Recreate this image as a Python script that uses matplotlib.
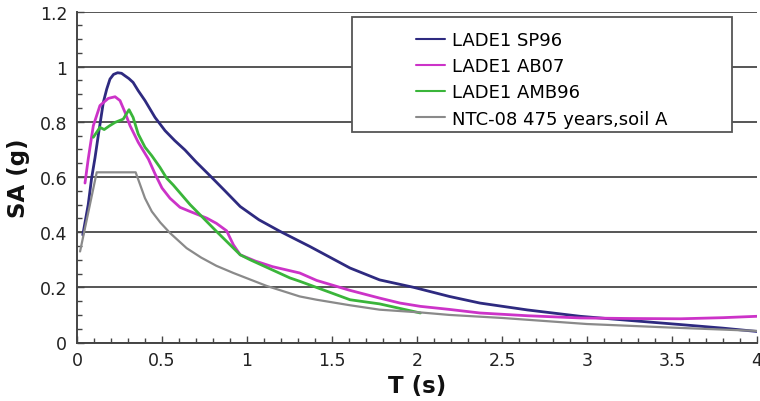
import matplotlib
matplotlib.use("Agg")
import matplotlib.pyplot as plt
from matplotlib.patches import Rectangle
from matplotlib.ticker import MultipleLocator

# Response spectra: period T (s) vs spectral acceleration SA (g)
t_sp96 = [0.034, 0.066, 0.086, 0.106, 0.125, 0.155, 0.175, 0.194, 0.215, 0.239,
          0.262, 0.282, 0.305, 0.33, 0.36, 0.40, 0.459, 0.518, 0.575, 0.635, 0.70,
          0.79, 0.87, 0.96, 1.07, 1.194, 1.37, 1.606, 1.78, 1.98, 2.19, 2.37,
          2.65, 2.96, 3.25, 3.55, 3.8, 4.0]
sa_sp96 = [0.39, 0.50, 0.596, 0.67, 0.75, 0.871, 0.919, 0.955, 0.972, 0.978,
           0.976, 0.967, 0.957, 0.943, 0.913, 0.877, 0.816, 0.768, 0.732, 0.698, 0.655,
           0.60, 0.55, 0.493, 0.445, 0.403, 0.348, 0.27, 0.227, 0.20, 0.167, 0.143,
           0.118, 0.095, 0.080, 0.065, 0.052, 0.04]

t_ab07 = [0.047, 0.066, 0.096, 0.135, 0.184, 0.224, 0.253, 0.282, 0.312, 0.36,
          0.42, 0.46, 0.50, 0.547, 0.606, 0.665, 0.763, 0.82, 0.88, 0.92,
          0.96, 1.05, 1.15, 1.31, 1.41, 1.6, 1.78, 1.9, 2.02, 2.19, 2.37,
          2.65, 2.96, 3.25, 3.55, 3.8, 4.0]
sa_ab07 = [0.578, 0.665, 0.786, 0.859, 0.885, 0.891, 0.877, 0.835, 0.786, 0.726,
           0.665, 0.61, 0.56, 0.523, 0.49, 0.475, 0.451, 0.432, 0.405, 0.354,
           0.318, 0.295, 0.275, 0.252, 0.225, 0.19, 0.161, 0.143, 0.131, 0.12, 0.107,
           0.097, 0.089, 0.087, 0.086, 0.09, 0.095]

t_amb96 = [0.096, 0.135, 0.16, 0.19, 0.224, 0.272, 0.306, 0.33, 0.36, 0.40,
           0.44, 0.488, 0.527, 0.566, 0.665, 0.82, 0.96, 1.018, 1.253, 1.31,
           1.606, 1.78, 2.02]
sa_amb96 = [0.744, 0.78, 0.772, 0.785, 0.798, 0.81, 0.844, 0.816, 0.756, 0.708,
            0.677, 0.635, 0.596, 0.571, 0.50, 0.403, 0.318, 0.30, 0.234, 0.222,
            0.155, 0.14, 0.107]

t_ntc = [0.018, 0.116, 0.345, 0.40, 0.44, 0.49, 0.547, 0.645, 0.73, 0.82, 0.92,
         1.02, 1.116, 1.31, 1.41, 1.606, 1.78, 2.02, 2.19, 2.5, 3.0, 3.5, 4.0]
sa_ntc = [0.33, 0.617, 0.617, 0.523, 0.475, 0.435, 0.397, 0.342, 0.308, 0.278, 0.252,
          0.228, 0.205, 0.167, 0.155, 0.135, 0.119, 0.109, 0.10, 0.089, 0.067, 0.054,
          0.042]

labels = ["LADE1 SP96", "LADE1 AB07", "LADE1 AMB96", "NTC-08 475 years,soil A"]
colors = ["#2e2a80", "#cc33c8", "#3ab53a", "#8a8a8a"]

x_ticks = [0, 0.5, 1, 1.5, 2, 2.5, 3, 3.5, 4]
x_tick_labels = ["0", "0.5", "1", "1.5", "2", "2.5", "3", "3.5", "4"]
y_ticks = [0, 0.2, 0.4, 0.6, 0.8, 1.0, 1.2]
y_tick_labels = ["0", "0.2", "0.4", "0.6", "0.8", "1", "1.2"]

plt.rcParams["font.family"] = ["DejaVu Sans"]

fig = plt.figure(figsize=(7.6, 4.02), dpi=100)
ax = fig.add_axes([77 / 760, 1 - 343.5 / 402, 680 / 760, 331 / 402])

series = [(t_sp96, sa_sp96), (t_ab07, sa_ab07), (t_amb96, sa_amb96), (t_ntc, sa_ntc)]
handles = []
for (t, sa), lab, col in zip(series, labels, colors):
    lw = 1.6 if col == "#8a8a8a" else 2.0
    h, = ax.plot(t, sa, color=col, lw=lw, label=lab, zorder=3,
                 solid_capstyle="round", solid_joinstyle="round")
    handles.append(h)

ax.set_xlim(0, 4)
ax.set_ylim(0, 1.2)
ax.set_xticks(x_ticks)
ax.set_xticklabels(x_tick_labels)
ax.set_yticks(y_ticks)
ax.set_yticklabels(y_tick_labels)
ax.xaxis.set_minor_locator(MultipleLocator(0.1))
ax.yaxis.set_minor_locator(MultipleLocator(0.05))

ax.tick_params(axis="both", which="both", direction="in", colors="#444444",
               labelcolor="#222222", labelsize=12.5)
ax.tick_params(axis="both", which="major", length=5, width=1.0)
ax.tick_params(axis="both", which="minor", length=3.5, width=1.0)
ax.tick_params(axis="x", pad=6)
ax.tick_params(axis="y", pad=7)

ax.grid(axis="y", which="major", color="#555555", lw=1.4, zorder=1)
for side in ("top", "right"):
    ax.spines[side].set_visible(False)
for side in ("left", "bottom"):
    ax.spines[side].set_color("#444444")
    ax.spines[side].set_linewidth(1.4)

ax.set_xlabel("T (s)", fontsize=16.5, fontweight="bold", color="#111111", labelpad=4)
ax.set_ylabel("SA (g)", fontsize=16.5, fontweight="bold", color="#111111", labelpad=7)

# Legend box
box = Rectangle((352 / 760, 1 - 133 / 402), 380 / 760, 115 / 402,
                transform=fig.transFigure, facecolor="white", edgecolor="#555555",
                lw=1.3, zorder=5)
fig.patches.append(box)
leg = fig.legend(handles=handles, labels=labels, loc="upper left",
                 bbox_to_anchor=(400 / 760, 1 - 16 / 402), frameon=False,
                 fontsize=13, handlelength=1.6, handletextpad=0.4, labelspacing=0.45)
for line in leg.get_lines():
    line.set_linewidth(1.5)
leg.set_zorder(6)

fig.savefig("out.png", dpi=100)
